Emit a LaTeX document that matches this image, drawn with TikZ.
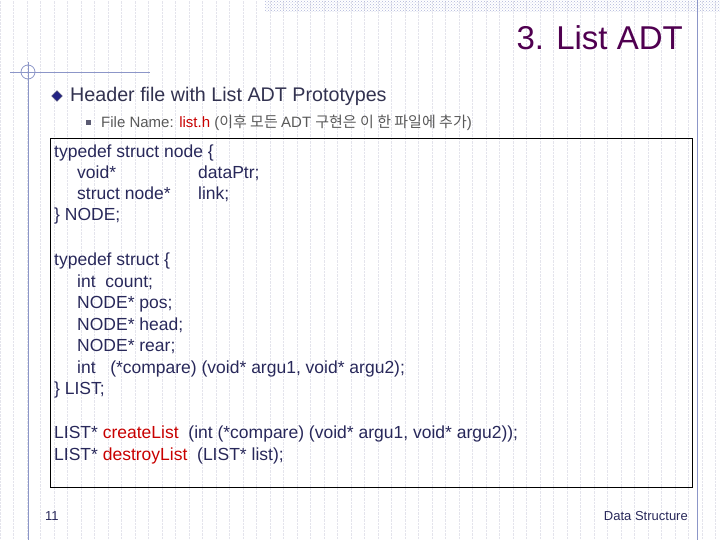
\documentclass[tikz,border=0pt]{standalone}
\usepackage{fontspec}
\setmainfont{Liberation Sans}
\newfontfamily\korfont{Noto Sans CJK KR}
\usetikzlibrary{patterns,shapes.geometric}
\definecolor{titlecol}{RGB}{80,0,80}
\definecolor{headcol}{RGB}{50,50,80}
\definecolor{codecol}{RGB}{40,40,90}
\definecolor{redcol}{RGB}{200,0,0}
\definecolor{gridcol}{RGB}{228,228,236}
\definecolor{rulecol}{RGB}{140,150,200}
\tikzstyle{codeline}=[anchor=west, text=codecol, font=\fontsize{17.5}{17.5}\selectfont, inner sep=0pt, text height=12pt, text depth=4pt]
\tikzstyle{rulel}=[draw=rulecol, line width=0.8pt]
\newcommand{\kw}[1]{\textcolor{redcol}{#1}}
\begin{document}
\begin{tikzpicture}[x=1pt,y=-1pt]
	\useasboundingbox (0,0) rectangle (720,540);
	% Background grid
	\draw[gridcol, densely dotted, line width=0.4pt, step=13.5] (0,0) grid (720,540);
	% Decorations
	\fill[pattern=crosshatch dots, pattern color=rulecol!70] (265,0) rectangle (720,12);
	\path[rulel] (697,0) -- (697,540);
	\path[rulel] (10,72) -- (150,72);
	\path[rulel] (28,62) -- (28,540);
	\draw[rulel] (28,72) circle (7);
	% Title and heading
	\node (title) [anchor=east, text=titlecol, font=\fontsize{33}{33}\selectfont, inner sep=0pt] at (683,38) {3. List ADT};
	\node (diam) [draw=headcol!80, fill=headcol!70!blue, diamond, shape aspect=1, inner sep=0pt, minimum size=11pt] at (57,96) {};
	\node (head) [anchor=west, text=headcol, font=\fontsize{19.7}{19.7}\selectfont, inner sep=0pt] at (70,96) {Header file with List ADT Prototypes};
	\node (bul) [fill=headcol!80, minimum size=5pt, inner sep=0pt] at (88,123) {};
	\node (fname) [anchor=west, text=black!65, font=\fontsize{15}{15}\selectfont, inner sep=0pt] at (101,123) {File Name: \kw{list.h} (\korfont 이후 모든 \rmfamily ADT \korfont 구현은 이 한 파일에 추가\rmfamily)};
	% Code box
	\node (box) [draw=black, line width=0.8pt, minimum width=642pt, minimum height=349pt, anchor=north west, inner sep=0pt] at (50,138) {};
	\node (c1) [codeline] at (54,154) {typedef struct node \{};
	\node (c2) [codeline] at (77,175) {void*};
	\node (c2b) [codeline] at (198,175) {dataPtr;};
	\node (c3) [codeline] at (77,196) {struct node*};
	\node (c3b) [codeline] at (198,196) {link;};
	\node (c4) [codeline] at (54,217) {\} NODE;};
	\node (c5) [codeline] at (54,261) {typedef struct \{};
	\node (c6) [codeline] at (77,283) {int\ \ count;};
	\node (c7) [codeline] at (77,304) {NODE* pos;};
	\node (c8) [codeline] at (77,326) {NODE* head;};
	\node (c9) [codeline] at (77,347) {NODE* rear;};
	\node (c10) [codeline] at (77,369) {int\ \ \ (*compare) (void* argu1, void* argu2);};
	\node (c11) [codeline] at (54,390) {\} LIST;};
	\node (c12) [codeline] at (54,434) {LIST* \kw{createList}\ \ (int (*compare) (void* argu1, void* argu2));};
	\node (c13) [codeline] at (54,456) {LIST* \kw{destroyList}\ \ (LIST* list);};
	% Footer
	\node (page) [anchor=west, text=codecol, font=\fontsize{13}{13}\selectfont, inner sep=0pt] at (45,516) {11};
	\node (foot) [anchor=east, text=codecol, font=\fontsize{13}{13}\selectfont, inner sep=0pt] at (688,516) {Data Structure};
\end{tikzpicture}
\end{document}
